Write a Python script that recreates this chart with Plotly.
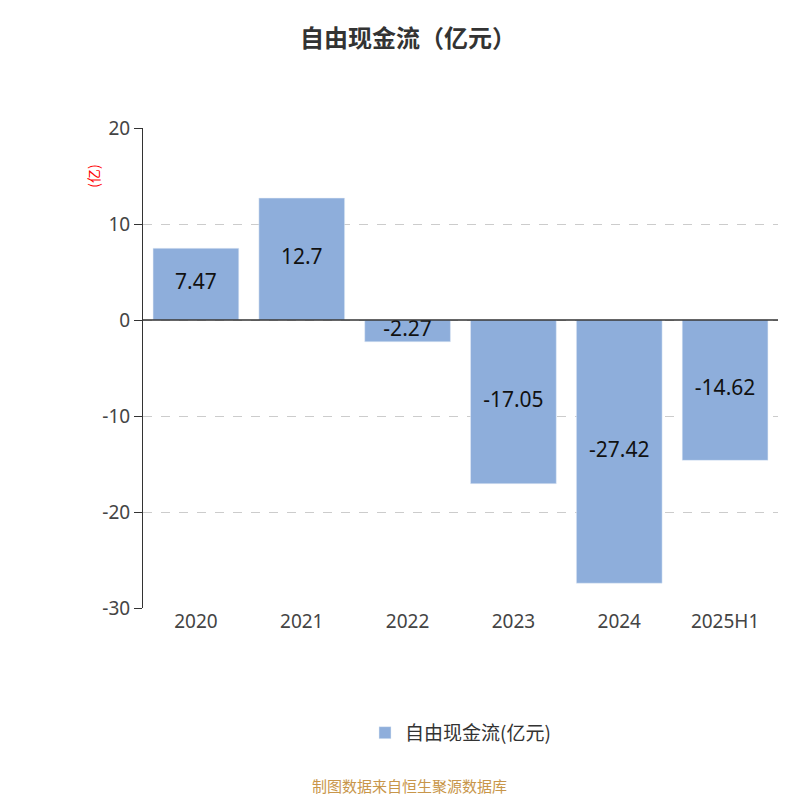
import plotly.graph_objects as go

categories = ["2020", "2021", "2022", "2023", "2024", "2025H1"]
values = [7.47, 12.7, -2.27, -17.05, -27.42, -14.62]
labels = ["7.47", "12.7", "-2.27", "-17.05", "-27.42", "-14.62"]
y_ticks = [20, 10, 0, -10, -20, -30]
y_tick_text = ["20", "10", "0", "-10", "-20", "-30"]

font = "Noto Sans, Noto Sans CJK SC"
fig = go.Figure()
fig.add_trace(go.Bar(x=categories, y=values, marker_color="#8eaedb",
                     name="自由现金流(亿元)", hoverinfo="skip"))
fig.add_trace(go.Scatter(x=categories, y=[v / 2 for v in values], text=labels,
                         mode="text", textfont=dict(size=21, color="#111", family=font),
                         showlegend=False, hoverinfo="skip"))
fig.add_hline(y=0, line=dict(color="#333", width=1.5))
fig.update_layout(
    width=800, height=800, plot_bgcolor="white", paper_bgcolor="white",
    margin=dict(l=135, r=30, t=120, b=200, autoexpand=False),
    font=dict(family=font, color="#333"),
    bargap=0.19,
    title=dict(text="<b>自由现金流（亿元）</b>", x=0.5, xanchor="center", y=0.972,
               font=dict(size=24, color="#333", family="Noto Sans CJK SC")),
    xaxis=dict(showline=False, ticks="", automargin=False, tickfont=dict(size=19, color="#444")),
    yaxis=dict(range=[-30, 20], tickvals=y_ticks, ticktext=y_tick_text, showline=True,
               linecolor="#333", automargin=False,
               ticks="outside", ticklen=8, tickcolor="#333",
               showgrid=True, gridcolor="#ccc", griddash="dash", zeroline=False,
               tickfont=dict(size=19, color="#444")),
    legend=dict(orientation="h", x=0.5, xanchor="center", y=-0.26, yanchor="middle",
                font=dict(size=19, color="#333", family="Noto Sans CJK SC")),
    annotations=[
        dict(text="(亿)", textangle=-90, x=-0.099, y=0.927, xref="paper", yref="paper",
             showarrow=False, font=dict(size=14, color="red", family="Noto Sans CJK SC")),
        dict(text="制图数据来自恒生聚源数据库", x=0.42, y=-0.396, xref="paper", yref="paper",
             showarrow=False, font=dict(size=15, color="#c8964a", family="Noto Sans CJK SC")),
    ],
)
fig.write_html("out.html")
